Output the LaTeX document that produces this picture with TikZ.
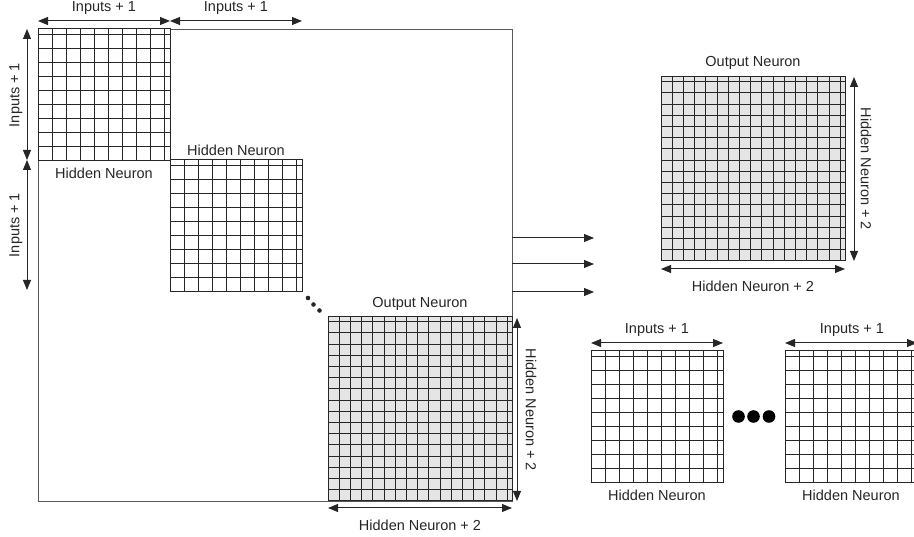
\documentclass[tikz,border=0pt]{standalone}
\usepackage{fontspec}
\setmainfont{Liberation Sans}
\usetikzlibrary{arrows.meta}
\tikzset{
  gridline/.style={draw=black!85, line width=1pt},
  frame/.style={draw=black!65, line width=1pt},
  dim/.style={draw=black!85, line width=1pt, {Triangle[length=10pt,width=8pt]}-{Triangle[length=10pt,width=8pt]}},
  flow/.style={draw=black!85, line width=1pt, -{Triangle[length=10pt,width=8pt]}},
  lbl/.style={font=\fontsize{14.5}{17}\selectfont, text=black!85, inner sep=0pt},
  mat/.style={draw=none, inner sep=0pt, anchor=north west},
}
\newcommand\gridmat[6]{% #1 x0, #2 y0, #3 size, #4 n, #5 cell, #6 fill
  \fill[#6] (#1,#2) rectangle ({#1+#3},{#2+#3});
  \foreach \i in {0,...,#4} {
    \draw[gridline] ({#1+\i*#5},#2) -- ({#1+\i*#5},{#2+#3});
    \draw[gridline] (#1,{#2+#3-\i*#5}) -- ({#1+#3},{#2+#3-\i*#5});
  }
  \draw[gridline] (#1,#2) rectangle ({#1+#3},{#2+#3});
}
\begin{document}
\begin{tikzpicture}[x=1pt,y=-1pt]
\useasboundingbox (0,0) rectangle (914,537);
% big frame
\node[mat, frame, minimum width=474pt, minimum height=472pt] (big) at (38,29) {};
% matrices
\node[mat, minimum width=132pt, minimum height=132pt] (hA) at (38,29) {};
\gridmat{38}{29}{132}{9}{14}{white}
\node[mat, minimum width=132pt, minimum height=132pt] (hB) at (170,160) {};
\gridmat{170}{160}{132}{9}{14}{white}
\node[mat, minimum width=184pt, minimum height=184pt] (oC) at (328,317) {};
\gridmat{328}{317}{184}{16}{11.2}{black!10}
\node[mat, minimum width=184pt, minimum height=184pt] (oD) at (661,77) {};
\gridmat{661}{77}{184}{16}{11.2}{black!10}
\node[mat, minimum width=132pt, minimum height=132pt] (hE) at (591,351) {};
\gridmat{591}{351}{132}{9}{14}{white}
\node[mat, minimum width=132pt, minimum height=132pt] (hF) at (785,351) {};
\gridmat{785}{351}{132}{9}{14}{white}
% top dimension arrows
\coordinate (t1) at (38,21); \coordinate (t2) at (170,21); \coordinate (t3) at (302,21);
\draw[dim] (t1) -- (t2);
\draw[dim] (t2) -- (t3);
\node[lbl] (lt1) at (104,8) {Inputs + 1};
\node[lbl] (lt2) at (236,8) {Inputs + 1};
% left dimension arrows
\coordinate (l1) at (27,29); \coordinate (l2) at (27,160); \coordinate (l3) at (27,290);
\draw[dim] (l1) -- (l2);
\draw[dim] (l2) -- (l3);
\node[lbl, rotate=90] (ll1) at (16,95) {Inputs + 1};
\node[lbl, rotate=90] (ll2) at (16,225) {Inputs + 1};
% hidden labels
\node[lbl] (hAl) at (104,173) {Hidden Neuron};
\node[lbl] (hBl) at (236,150) {Hidden Neuron};
% small dots
\foreach \p [count=\k] in {(308,298),(313.5,304.5),(319.5,310.5)}
  \fill[black!85] \p circle (2.3pt);
% output neuron in big
\node[lbl] (oCl) at (420,304) {Output Neuron};
\coordinate (cr1) at (517,318); \coordinate (cr2) at (517,501);
\draw[dim] (cr1) -- (cr2);
\node[lbl, rotate=-90] (oCr) at (531,410) {Hidden Neuron + 2};
\coordinate (cb1) at (328,508); \coordinate (cb2) at (512,508);
\draw[dim] (cb1) -- (cb2);
\node[lbl] (oCb) at (420,525) {Hidden Neuron + 2};
% flow arrows
\foreach \y [count=\k] in {238,264,292} {
  \coordinate (fs\k) at (512,\y); \coordinate (fe\k) at (594,\y);
  \draw[flow] (fs\k) -- (fe\k);
}
% top-right output neuron
\node[lbl] (oDl) at (753,63) {Output Neuron};
\coordinate (dr1) at (854,77); \coordinate (dr2) at (854,261);
\draw[dim] (dr1) -- (dr2);
\node[lbl, rotate=-90] (oDr) at (866,169) {Hidden Neuron + 2};
\coordinate (db1) at (661,269); \coordinate (db2) at (845,269);
\draw[dim] (db1) -- (db2);
\node[lbl] (oDb) at (753,286) {Hidden Neuron + 2};
% bottom-right hidden neurons
\coordinate (e1) at (591,343); \coordinate (e2) at (723,343);
\draw[dim] (e1) -- (e2);
\node[lbl] (hEt) at (657,330) {Inputs + 1};
\coordinate (f1) at (785,343); \coordinate (f2) at (917,343);
\draw[dim] (f1) -- (f2);
\node[lbl] (hFt) at (852,330) {Inputs + 1};
\node[lbl] (hEb) at (657,495) {Hidden Neuron};
\node[lbl] (hFb) at (851,495) {Hidden Neuron};
% big dots
\foreach \x in {738.5,753.5,769}
  \fill[black] (\x,416.5) circle (6.3pt);
\end{tikzpicture}
\end{document}
